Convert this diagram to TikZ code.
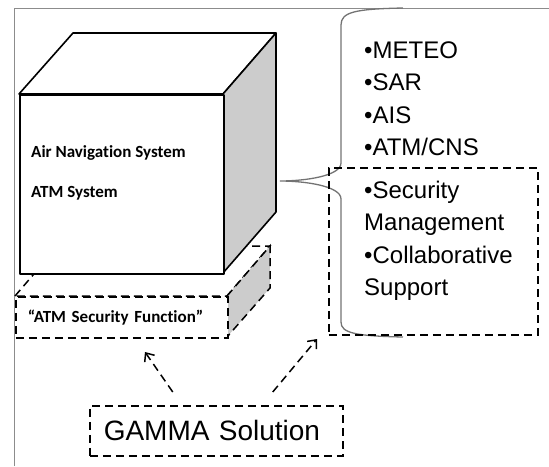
\documentclass[tikz,border=0pt]{standalone}
\usepackage{fontspec}
\setmainfont{Liberation Sans}
\newfontfamily\calibfont[Ligatures=NoCommon]{Carlito}
\usetikzlibrary{arrows.meta}
\tikzset{
  edgeline/.style={line width=1.6pt, line join=round},
  dashline/.style={line width=1.5pt, dash pattern=on 8pt off 5pt},
  sidegray/.style={fill=black!20},
  boldlabel/.style={font=\calibfont\bfseries\fontsize{17}{20}\selectfont, inner sep=0pt, anchor=west},
  listitem/.style={font=\fontsize{24}{28}\selectfont, inner sep=0pt, anchor=base west},
  dasharrow/.style={dashline, -{Straight Barb[length=7pt,width=12pt]}},
}

\begin{document}
\begin{tikzpicture}[x=1pt,y=-1pt]
  \useasboundingbox (0,0) rectangle (549,466);
  % frame
  \draw[black!45, line width=1pt] (14,466) -- (14,8) -- (549,8);

  % dashed base box
  \draw[dashline, fill=white] (15,296) -- (58,246) -- (270,246) -- (227,296) -- cycle;
  \draw[dashline, sidegray] (227,296) -- (270,246) -- (270,288) -- (227,337) -- cycle;
  \node[draw, dashline, fill=white, anchor=north west, minimum height=41pt, text width=188pt,
        inner xsep=12pt, inner ysep=0pt, align=left,
        font=\calibfont\bfseries\fontsize{17}{20}\selectfont] (asf) at (15,296) {“ATM Security Function”};

  % cube
  \draw[edgeline, fill=white] (19,94) -- (73,33) -- (276,33) -- (223,94) -- cycle;
  \draw[edgeline, sidegray] (223,94) -- (276,33) -- (276,212) -- (223,273) -- cycle;
  \node[draw, edgeline, fill=white, anchor=north west, minimum width=204pt, minimum height=179pt, inner sep=0pt] (ans) at (19,94) {};
  \node[boldlabel] (anslabel) at (31,153) {Air Navigation System};
  \node[boldlabel] (atmlabel) at (31,193) {ATM System};

  % brace
  \coordinate (bracetip) at (280,181);
  \draw[black!55, line width=1.3pt] (403,8) .. controls (355,9) and (341,12) .. (341,25) -- (341,163)
    .. controls (341,176) and (305,181) .. (bracetip)
    .. controls (305,181) and (341,186) .. (341,199) -- (341,322)
    .. controls (341,333) and (355,336) .. (403,337);

  % services
  \node[draw, dashline, anchor=north west, minimum width=209pt, minimum height=167pt, inner sep=0pt] (secbox) at (328,167) {};
  \node[listitem] (meteo) at (364,58) {•METEO};
  \node[listitem] (sar) at (364,90.5) {•SAR};
  \node[listitem] (ais) at (364,123) {•AIS};
  \node[listitem] (cns) at (364,155.5) {•ATM/CNS};
  \node[listitem] (secmgmt) at (364,198) {•Security};
  \node[listitem] (secmgmt2) at (364,230.5) {Management};
  \node[listitem] (collab) at (364,263) {•Collaborative};
  \node[listitem] (collab2) at (364,295.5) {Support};

  % gamma
  \node[draw, dashline, anchor=north west, minimum height=50pt, text width=225pt,
        inner xsep=14pt, inner ysep=0pt, align=left,
        font=\fontsize{28}{32}\selectfont] (gamma) at (89,405) {GAMMA Solution};
  \coordinate (asfpoint) at (145,352);
  \coordinate (secpoint) at (317,339);
  \draw[dasharrow] ([xshift=-43.5pt,yshift=13pt]gamma.north) -- (asfpoint);
  \draw[dasharrow] ([xshift=56.5pt,yshift=13pt]gamma.north) -- (secpoint);
\end{tikzpicture}
\end{document}
